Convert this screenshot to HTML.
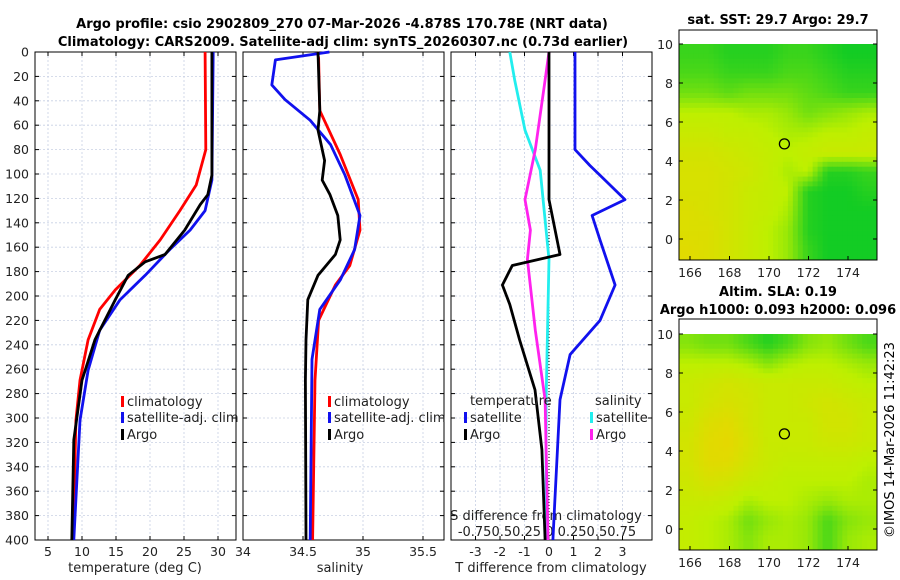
<!DOCTYPE html>
<html><head><meta charset="utf-8"><style>
body{margin:0;background:#fff;}
svg{font-family:"DejaVu Sans","Liberation Sans",sans-serif;display:block}
</style></head><body>
<svg id="c" width="900" height="580" viewBox="0 0 900 580">
<g font-weight="bold" font-size="13" text-anchor="middle" fill="#000">
<text x="342" y="28">Argo profile: csio 2902809_270 07-Mar-2026 -4.878S 170.78E (NRT data)</text>
<text x="343" y="46">Climatology: CARS2009. Satellite-adj clim: synTS_20260307.nc (0.73d earlier)</text>
<text x="778" y="24">sat. SST: 29.7 Argo: 29.7</text>
<text x="778" y="296">Altim. SLA: 0.19</text>
<text x="778" y="314">Argo h1000: 0.093 h2000: 0.096</text>
</g>
<text transform="translate(894,440) rotate(-90)" font-size="13" text-anchor="middle">©IMOS 14-Mar-2026 11:42:23</text>
<g id="plots"></g>
</svg>
<script>
// ---- data ----
const depthTicks=[0,20,40,60,80,100,120,140,160,180,200,220,240,260,280,300,320,340,360,380,400];
const tempTicks=[5,10,15,20,25,30];
const salTicks=[34,34.5,35,35.5];
const salTickLabels=["34","34.5","35","35.5"];
const tdiffTicks=[-3,-2,-1,0,1,2,3];
const sdiffTickLabels=["-0.75","0.5","0.25","0","0.25","0.5","0.75"];
const tClimD=[0,80,109,130,154,175,195,211,236,269,302,400];
const tClimV=[28.1,28.2,26.8,24.4,21.5,18.5,14.9,12.6,10.9,9.7,9.1,8.7];
const tSatD=[0,105,130,146,162,183,203,228,261,302,400];
const tSatV=[29.3,29.1,28.1,25.9,22.9,19.3,15.6,12.6,10.9,9.7,8.8];
const tArgoD=[0,101,117,125,146,166,172,183,203,236,269,318,400];
const tArgoV=[29.1,29.1,28.5,27.4,25.1,22.2,19.3,16.8,14.9,11.9,10.0,8.8,8.5];
const sClimD=[0,5,48,84,121,146,175,191,220,269,400];
const sClimV=[34.62,34.63,34.64,34.81,34.96,34.975,34.89,34.77,34.63,34.6,34.58];
const sSatD=[0,6.5,27,39,56,76,101,134,162,187,211,252,400];
const sSatV=[34.72,34.27,34.24,34.35,34.56,34.73,34.85,34.975,34.93,34.81,34.64,34.575,34.56];
const sArgoD=[0,48,64,89,105,117,134,154,166,183,203,236,269,400];
const sArgoV=[34.625,34.64,34.625,34.68,34.66,34.725,34.79,34.81,34.77,34.625,34.54,34.525,34.52,34.525];
const dTSatD=[0,80,93,101,121,134,154,191,220,248,285,367,400];
const dTSatV=[1.06,1.06,1.67,2.08,3.1,1.76,2.08,2.7,2.08,0.86,0.45,0.24,0.16];
const dTArgoD=[0,121,166,175,191,207,236,277,326,400];
const dTArgoV=[0,0,0.45,-1.5,-1.9,-1.6,-1.2,-0.57,-0.29,-0.16];
const dSSatD=[0,23,64,97,170,285,400];
const dSSatV=[-0.4,-0.35,-0.245,-0.09,0,-0.03,-0.03];
const dSArgoD=[0,23,80,121,146,170,228,285,400];
const dSArgoV=[0,-0.04,-0.14,-0.245,-0.19,-0.22,-0.14,-0.04,-0.01];
const mapLonTicks=[166,168,170,172,174];
const mapLatTicks=[0,2,4,6,8,10];
const sstField=[
[.15,.15,.1,.1,.1,.15,.15,.1,.05,.05],
[.2,.2,.15,.15,.15,.2,.2,.15,.1,.1],
[.3,.3,.25,.3,.3,.3,.25,.2,.15,.15],
[.5,.5,.5,.45,.45,.4,.3,.35,.4,.45],
[.6,.6,.55,.55,.5,.45,.45,.5,.5,.55],
[.7,.7,.65,.6,.55,.5,.55,.6,.6,.6],
[.75,.75,.7,.65,.55,.45,.5,.1,.1,.15],
[.75,.75,.7,.6,.55,.5,.1,.05,.05,.1],
[.8,.75,.7,.6,.55,.45,.1,.05,.05,.05],
[.8,.8,.7,.6,.5,.4,.1,.05,.05,.05],
[.85,.8,.7,.6,.5,.4,.15,.05,.05,.05]];
const slaField=[
[.35,.3,.3,.2,.1,.2,.35,.4,.3,.2],
[.5,.5,.5,.45,.35,.45,.5,.5,.45,.4],
[.6,.65,.7,.65,.6,.6,.6,.6,.55,.5],
[.6,.7,.75,.7,.6,.6,.65,.7,.65,.6],
[.65,.8,.85,.7,.6,.6,.6,.7,.7,.6],
[.7,.85,.9,.75,.6,.6,.6,.65,.65,.6],
[.7,.85,.85,.7,.6,.55,.55,.55,.55,.5],
[.65,.75,.7,.6,.55,.5,.5,.5,.5,.45],
[.6,.6,.55,.45,.5,.5,.45,.4,.45,.45],
[.55,.5,.45,.3,.4,.45,.4,.2,.35,.4],
[.55,.5,.45,.35,.45,.45,.4,.2,.4,.45]];
const argoLon=170.78, argoLat=4.878;

// ---- drawing ----
const NS="http://www.w3.org/2000/svg";
const root=document.getElementById('plots');
function el(t,a,p){const e=document.createElementNS(NS,t);for(const k in a)e.setAttribute(k,a[k]);(p||root).appendChild(e);return e;}
const top0=52,bot=540;
const yD=d=>52+d*1.22;
const panels=[
 {x0:35,x1:236,xs:v=>48+(v-5)*6.8,name:'temperature'},
 {x0:243,x1:444,xs:v=>243+(v-34)*120,name:'salinity'},
 {x0:451,x1:652,xs:v=>549+v*24.5,name:'difference'}];
const sS=v=>549+v*98;
const GRID='#c8d0e4';

panels.forEach((p,i)=>{
  const g=el('g',{});
  
  
  depthTicks.forEach(d=>{
    const l=el('line',{x1:p.x0,x2:p.x1,y1:yD(d),y2:yD(d),stroke:GRID,'stroke-width':0.8,'stroke-dasharray':'2,2'},g);
    
    
  });
  const xt=i==0?tempTicks:i==1?salTicks:tdiffTicks;
  xt.forEach((v,k)=>{
    const x=p.xs(v);
    if(x>p.x0&&x<p.x1){const l=el('line',{x1:x,x2:x,y1:top0,y2:bot,stroke:GRID,'stroke-width':0.8,'stroke-dasharray':'2,2'},g);
    
    }
    el('line',{x1:x,x2:x,y1:bot,y2:bot-4,stroke:'#000'},g);
    el('line',{x1:x,x2:x,y1:top0,y2:top0+4,stroke:'#000'},g);
    const t=el('text',{x:x,y:556,'font-size':12.5,'text-anchor':'middle',fill:'#222'},g);
    t.textContent=i==1?salTickLabels[k]:String(v);
    
    
  });
  depthTicks.forEach(d=>{el('line',{x1:p.x0,x2:p.x0+4,y1:yD(d),y2:yD(d),stroke:'#000'},g);el('line',{x1:p.x1,x2:p.x1-4,y1:yD(d),y2:yD(d),stroke:'#000'},g);});
  el('rect',{x:p.x0,y:top0,width:p.x1-p.x0,height:bot-top0,fill:'none',stroke:'#000','stroke-width':1},g);
});
depthTicks.forEach(d=>{
  const t=el('text',{x:29,y:yD(d)+4.5,'font-size':12.5,'text-anchor':'end',fill:'#222'});
  t.textContent=String(d);
  
  
});
[[135,'temperature (deg C)'],[340,'salinity'],[551,'T difference from climatology']].forEach(a=>{
  const t=el('text',{x:a[0],y:572,'font-size':13,'text-anchor':'middle',fill:'#222'});t.textContent=a[1];
  
  
});
const st=el('text',{x:546,y:520,'font-size':13,'text-anchor':'middle',fill:'#222'});st.textContent='S difference from climatology';


const sl=el('text',{x:547,y:536,'font-size':13,'text-anchor':'middle',fill:'#222'});sl.textContent=sdiffTickLabels.join(' ').replace('-0.75 0.5 0.25','-0.750.50.25').replace('0.25 0.5 0.75','0.250.50.75');


const zl=el('line',{x1:549,x2:549,y1:top0,y2:bot,stroke:'#000','stroke-width':1,'stroke-dasharray':'1,2'});



function line(D,V,xs,color,name){
  const pts=D.map((d,k)=>xs(V[k]).toFixed(1)+','+yD(d).toFixed(1)).join(' ');
  const l=el('polyline',{points:pts,fill:'none',stroke:color,'stroke-width':2.8,'stroke-linejoin':'round'});
  
  
}
line(tClimD,tClimV,panels[0].xs,'#f00','temp-climatology-line');
line(tSatD,tSatV,panels[0].xs,'#11e','temp-satellite-line');
line(tArgoD,tArgoV,panels[0].xs,'#000','temp-argo-line');
line(sClimD,sClimV,panels[1].xs,'#f00','sal-climatology-line');
line(sSatD,sSatV,panels[1].xs,'#11e','sal-satellite-line');
line(sArgoD,sArgoV,panels[1].xs,'#000','sal-argo-line');
line(dSSatD,dSSatV,sS,'#2ee','sdiff-satellite-line');
line(dSArgoD,dSArgoV,sS,'#f2e','sdiff-argo-line');
line(dTSatD,dTSatV,panels[2].xs,'#11e','tdiff-satellite-line');
line(dTArgoD,dTArgoV,panels[2].xs,'#000','tdiff-argo-line');

function legend(x,y,color,label){
  const g=el('g',{});
  
  
  el('rect',{x:x,y:y-10,width:3,height:11,fill:color},g);
  const t=el('text',{x:x+6,y:y,'font-size':13,fill:'#222'},g);t.textContent=label;
}
legend(121,406,'#f00','climatology');legend(121,422,'#11e','satellite-adj. clim');legend(121,439,'#000','Argo');
legend(328,406,'#f00','climatology');legend(328,422,'#11e','satellite-adj. clim');legend(328,439,'#000','Argo');
const lt=el('text',{x:470,y:405,'font-size':13,fill:'#222'});lt.textContent='temperature';

const ls=el('text',{x:595,y:405,'font-size':13,fill:'#222'});ls.textContent='salinity';

legend(464,422,'#11e','satellite');legend(464,439,'#000','Argo');
legend(590,422,'#2ee','satellite');legend(590,439,'#f2e','Argo');

// ---- maps ----
function col(v){
  let r,g,b;
  if(v<0.5){const t=v/0.5;r=0+190*t;g=200+40*t;b=40-40*t;}
  else{const t=(v-0.5)/0.5;r=190+50*t;g=240-30*t;b=0;}
  return `rgb(${r|0},${g|0},${b|0})`;
}
function sample(f,fy,fx){
  const R=f.length-1,C=f[0].length-1;
  fy=Math.max(0,Math.min(R,fy));fx=Math.max(0,Math.min(C,fx));
  const y0=Math.floor(fy),x0=Math.floor(fx),y1=Math.min(R,y0+1),x1=Math.min(C,x0+1),ty=fy-y0,tx=fx-x0;
  return f[y0][x0]*(1-ty)*(1-tx)+f[y0][x1]*(1-ty)*tx+f[y1][x0]*ty*(1-tx)+f[y1][x1]*ty*tx;
}
function map(field,boxTop,boxBot,lat10,lat0,name){
  const g=el('g',{});
  
  
  const xL=679,xR=877;
  const lx=v=>690+(v-166)*19.75;
  const ly=v=>lat0+(lat10-lat0)*v/10;
  const rows=field.length,cols=field[0].length,S=4;
  const cw=(xR-xL)/(cols*S), ch=(boxBot-ly(10))/(rows*S);
  for(let r=0;r<rows*S;r++)for(let c=0;c<cols*S;c++){
    const v=sample(field,(r+0.5)/S-0.5,(c+0.5)/S-0.5);
    const cell=el('rect',{x:xL+c*cw,y:ly(10)+r*ch,width:cw+0.4,height:ch+0.4,fill:col(v)},g);
    
    
  }
  el('rect',{x:xL,y:boxTop,width:xR-xL,height:boxBot-boxTop,fill:'none',stroke:'#000'},g);
  mapLonTicks.forEach(v=>{el('line',{x1:lx(v),x2:lx(v),y1:boxBot,y2:boxBot-4,stroke:'#000'},g);
    const t=el('text',{x:lx(v),y:boxBot+17,'font-size':12.5,'text-anchor':'middle',fill:'#222'},g);t.textContent=v;
    });
  mapLatTicks.forEach(v=>{el('line',{x1:xL,x2:xL+4,y1:ly(v),y2:ly(v),stroke:'#000'},g);el('line',{x1:xR,x2:xR-4,y1:ly(v),y2:ly(v),stroke:'#000'},g);
    const t=el('text',{x:673,y:ly(v)+5,'font-size':12.5,'text-anchor':'end',fill:'#222'},g);t.textContent=v;
    });
  const m=el('circle',{cx:lx(argoLon),cy:ly(argoLat),r:5,fill:'none',stroke:'#000','stroke-width':1.3},g);
  
  
}
map(sstField,30,260,44,239,'sst-map');
map(slaField,319,550,334,529,'sla-map');
</script>
</body></html>
